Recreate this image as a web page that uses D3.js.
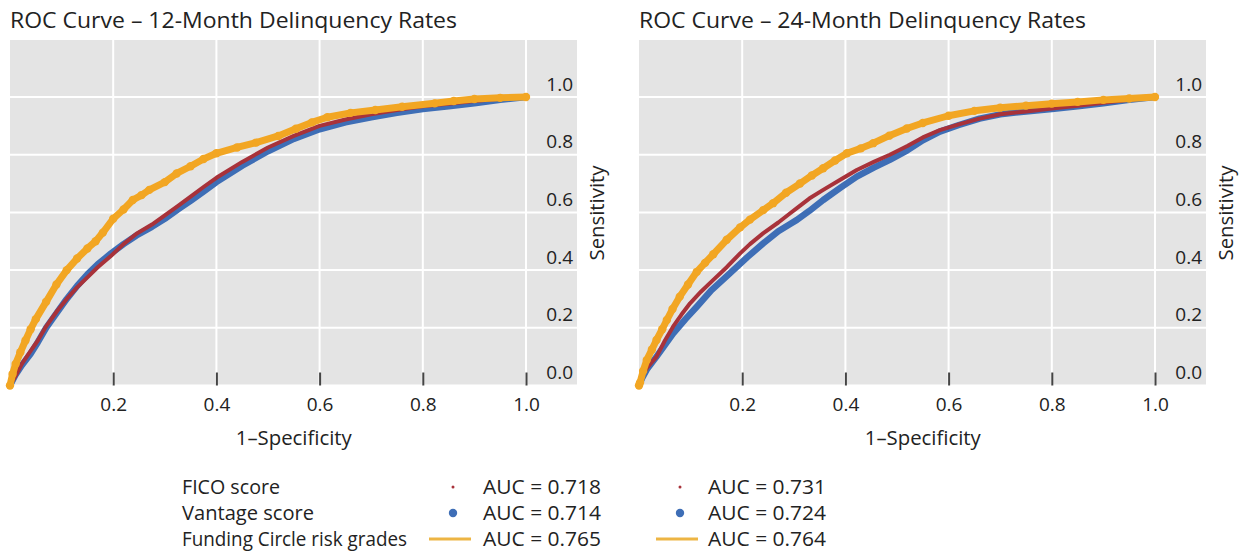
<!DOCTYPE html>
<html><head><meta charset="utf-8">
<script src="https://cdn.jsdelivr.net/npm/d3@7"></script>
<style>body{margin:0;background:#fff;} text{font-family:"Open Sans","Noto Sans",sans-serif;fill:#222;}</style>
</head><body>
<svg id="c" width="1251" height="556"></svg>
<script>
// ---- data ----
const titles = ["ROC Curve \u2013 12-Month Delinquency Rates", "ROC Curve \u2013 24-Month Delinquency Rates"];
const xTicks = [0.2, 0.4, 0.6, 0.8, 1.0];
const yTicks = [0.0, 0.2, 0.4, 0.6, 0.8, 1.0];
const seriesNames = ["FICO score", "Vantage score", "Funding Circle risk grades"];
const auc12 = ["AUC = 0.718", "AUC = 0.714", "AUC = 0.765"];
const auc24 = ["AUC = 0.731", "AUC = 0.724", "AUC = 0.764"];

const fico12 = [[0,0],[0.01,0.03],[0.023,0.075],[0.04,0.12],[0.054,0.156],[0.07,0.205],[0.092,0.26],[0.11,0.30],[0.13,0.34],[0.15,0.375],[0.17,0.41],[0.196,0.45],[0.22,0.49],[0.245,0.526],[0.275,0.558],[0.3,0.59],[0.325,0.622],[0.35,0.655],[0.375,0.688],[0.4,0.72],[0.45,0.775],[0.5,0.825],[0.55,0.865],[0.6,0.9],[0.65,0.922],[0.7,0.94],[0.75,0.955],[0.8,0.968],[0.85,0.977],[0.9,0.986],[0.95,0.994],[1,1]];
const vantage12 = [[0,0],[0.01,0.035],[0.023,0.07],[0.04,0.11],[0.054,0.15],[0.07,0.2],[0.092,0.255],[0.11,0.3],[0.13,0.345],[0.15,0.385],[0.17,0.42],[0.196,0.458],[0.22,0.49],[0.245,0.52],[0.275,0.55],[0.3,0.578],[0.325,0.61],[0.35,0.64],[0.375,0.672],[0.4,0.705],[0.45,0.762],[0.5,0.812],[0.55,0.855],[0.6,0.888],[0.65,0.912],[0.7,0.93],[0.75,0.945],[0.8,0.958],[0.85,0.968],[0.9,0.978],[0.95,0.99],[1,1]];
const fc12 = [[0,0],[0.005,0.04],[0.011,0.075],[0.02,0.115],[0.03,0.156],[0.04,0.195],[0.05,0.23],[0.07,0.29],[0.09,0.35],[0.11,0.40],[0.13,0.44],[0.15,0.475],[0.166,0.50],[0.18,0.53],[0.2,0.578],[0.22,0.61],[0.238,0.643],[0.255,0.66],[0.27,0.678],[0.3,0.705],[0.323,0.735],[0.35,0.76],[0.375,0.785],[0.4,0.805],[0.44,0.825],[0.477,0.842],[0.52,0.865],[0.554,0.89],[0.585,0.912],[0.615,0.93],[0.66,0.945],[0.708,0.955],[0.76,0.966],[0.823,0.978],[0.86,0.986],[0.9,0.993],[0.95,0.997],[1,1]];

const fico24 = [[0,0],[0.006,0.03],[0.015,0.06],[0.034,0.1],[0.05,0.155],[0.066,0.204],[0.082,0.245],[0.099,0.285],[0.12,0.325],[0.144,0.366],[0.17,0.41],[0.196,0.458],[0.215,0.49],[0.241,0.528],[0.27,0.565],[0.293,0.597],[0.306,0.615],[0.33,0.648],[0.357,0.678],[0.39,0.713],[0.422,0.747],[0.455,0.775],[0.486,0.80],[0.52,0.83],[0.55,0.86],[0.583,0.885],[0.62,0.905],[0.66,0.925],[0.7,0.94],[0.75,0.95],[0.8,0.96],[0.85,0.97],[0.9,0.98],[0.95,0.99],[1,1]];
const vantage24 = [[0,0],[0.006,0.025],[0.015,0.055],[0.034,0.1],[0.05,0.14],[0.066,0.18],[0.09,0.23],[0.112,0.273],[0.14,0.33],[0.176,0.389],[0.21,0.445],[0.241,0.493],[0.27,0.535],[0.293,0.56],[0.306,0.574],[0.33,0.605],[0.357,0.643],[0.39,0.685],[0.422,0.724],[0.455,0.755],[0.486,0.782],[0.52,0.815],[0.55,0.85],[0.583,0.88],[0.62,0.903],[0.66,0.925],[0.7,0.94],[0.75,0.95],[0.8,0.958],[0.85,0.968],[0.9,0.978],[0.95,0.99],[1,1]];
const fc24 = [[0,0],[0.002,0.01],[0.008,0.05],[0.015,0.088],[0.025,0.125],[0.034,0.158],[0.045,0.195],[0.054,0.227],[0.065,0.265],[0.079,0.308],[0.095,0.35],[0.112,0.394],[0.128,0.425],[0.144,0.455],[0.17,0.505],[0.196,0.548],[0.215,0.575],[0.241,0.608],[0.26,0.632],[0.285,0.668],[0.312,0.70],[0.335,0.728],[0.357,0.753],[0.38,0.78],[0.403,0.805],[0.43,0.822],[0.454,0.84],[0.485,0.866],[0.519,0.891],[0.55,0.91],[0.6,0.935],[0.65,0.952],[0.7,0.963],[0.75,0.97],[0.8,0.977],[0.85,0.983],[0.9,0.99],[0.95,0.995],[1,1]];

const colors = {fico: "#A8323A", vantage: "#3E6EB6", fc: "#F2A623"};

// ---- drawing ----
const svg = d3.select("#c");
const panels = [
  {ox: 10, title: titles[0], fico: fico12, vantage: vantage12, fc: fc12},
  {ox: 639, title: titles[1], fico: fico24, vantage: vantage24, fc: fc24}
];
const plotW = 516, extraW = 51, yTop = 40;

function fit(sel, w) {
  sel.attr("textLength", w).attr("lengthAdjust", "spacingAndGlyphs");
}

panels.forEach(p => {
  const x = d3.scaleLinear().domain([0, 1]).range([p.ox, p.ox + plotW]);
  const y = d3.scaleLinear().domain([0, 1]).range([385.5, 97]);
  const g = svg.append("g");
  g.append("rect").attr("x", p.ox).attr("y", yTop).attr("width", plotW + extraW)
    .attr("height", y(0) - yTop).attr("fill", "#E4E4E4");
  // grid
  g.selectAll(".hg").data(yTicks).join("line").attr("x1", p.ox).attr("x2", p.ox + plotW + extraW)
    .attr("y1", d => y(d)).attr("y2", d => y(d)).attr("stroke", "#fff").attr("stroke-width", 2);
  g.selectAll(".vg").data(xTicks).join("line").attr("y1", yTop).attr("y2", y(0))
    .attr("x1", d => x(d)).attr("x2", d => x(d)).attr("stroke", "#fff").attr("stroke-width", 2);
  // x axis
  const xa = g.append("g").attr("transform", `translate(0,${y(0)})`)
    .call(d3.axisBottom(x).tickValues(xTicks).tickSizeInner(-13).tickSizeOuter(0).tickPadding(22).tickFormat(d3.format(".1f")));
  xa.select(".domain").remove();
  xa.selectAll("line").attr("stroke", "#444").attr("stroke-width", 2);
  xa.selectAll("text").attr("font-size", 19).attr("fill", "#222").attr("font-family", "Open Sans").attr("dy", "0.32em").attr("y", 19);
  // y axis (labels on the right, inside panel)
  const ya = g.append("g").attr("transform", `translate(${p.ox + plotW + extraW - 4},0)`)
    .call(d3.axisRight(y).tickValues(yTicks).tickSize(0).tickPadding(0).tickFormat(d3.format(".1f")));
  ya.select(".domain").remove();
  ya.selectAll("text").attr("font-size", 19).attr("fill", "#222").attr("font-family", "Open Sans")
    .attr("text-anchor", "end").attr("x", 0).attr("dy", -7);
  // curves
  const line = d3.line().x(d => x(d[0])).y(d => y(d[1])).curve(d3.curveLinear);
  g.append("path").datum(p.vantage).attr("d", line).attr("fill", "none").attr("stroke", colors.vantage)
    .attr("stroke-width", 6.5).attr("stroke-linejoin", "round").attr("stroke-linecap", "round");
  g.append("path").datum(p.fico).attr("d", line).attr("fill", "none").attr("stroke", colors.fico)
    .attr("stroke-width", 4).attr("stroke-linejoin", "round").attr("stroke-linecap", "round");
  g.append("path").datum(p.fc).attr("d", line).attr("fill", "none").attr("stroke", colors.fc)
    .attr("stroke-width", 7).attr("stroke-linejoin", "round").attr("stroke-linecap", "round");
  g.selectAll(".fcdot").data(p.fc).join("circle").attr("cx", d => x(d[0])).attr("cy", d => y(d[1]))
    .attr("r", 4.2).attr("fill", colors.fc);
  // titles
  g.append("text").attr("x", p.ox).attr("y", 28).attr("font-size", 21).text(p.title).call(fit, 447);
  g.append("text").attr("x", x(0.55)).attr("y", 445).attr("text-anchor", "middle").attr("font-size", 20)
    .text("1\u2013Specificity").call(fit, 116);
  g.append("text").attr("transform", `translate(${p.ox + plotW + extraW + 27},${213}) rotate(-90)`)
    .attr("text-anchor", "middle").attr("font-size", 20).text("Sensitivity").call(fit, 95);
});

// legend
const rowsY = [487, 513, 539];
const nameW = [98, 132, 225];
const leg = svg.append("g");
seriesNames.forEach((n, i) => {
  leg.append("text").attr("x", 182).attr("y", rowsY[i]).attr("dy", "0.35em").attr("font-size", 20).text(n).call(fit, nameW[i]);
});
[[453, 483, auc12], [680, 708, auc24]].forEach(([mx, tx, labels]) => {
  leg.append("circle").attr("cx", mx).attr("cy", rowsY[0]).attr("r", 1.5).attr("fill", colors.fico);
  leg.append("circle").attr("cx", mx).attr("cy", rowsY[1]).attr("r", 4.2).attr("fill", colors.vantage);
  leg.append("line").attr("x1", mx - 24).attr("x2", mx + 18).attr("y1", rowsY[2]).attr("y2", rowsY[2])
    .attr("stroke", "#EDB544").attr("stroke-width", 3);
  labels.forEach((t, i) => leg.append("text").attr("x", tx).attr("y", rowsY[i]).attr("dy", "0.35em").attr("font-size", 20).text(t).call(fit, 118));
});
</script>
</body></html>
